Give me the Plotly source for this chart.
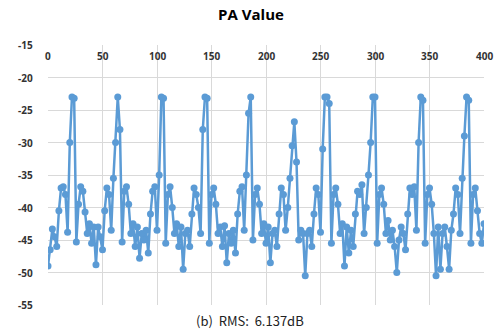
import plotly.graph_objects as go

x_vals = list(range(0, 401, 2))

pa_values = [
    # 0-38
    -49, -46.5, -43.3, -44.5, -46, -40.5, -37, -36.8, -38, -43.8,
    -30, -23, -23.2, -45.3, -39.5, -36.8, -37.5, -40.7, -44, -42.5,
    # 40-78
    -45.5, -43, -48.8, -43, -44.5, -46.5, -40.5, -37, -38, -43.5,
    -35.5, -30, -23, -28, -45.3, -37.5, -36.8, -39.5, -44, -42.5,
    # 80-118
    -46, -43, -47.8, -44, -45, -43.5, -47, -41, -37.5, -36.8,
    -43.5, -35, -23, -23.2, -45.5, -38, -36.8, -40, -44, -42.5,
    # 120-158
    -46, -43, -49.5, -44, -43.5, -46, -41, -37, -38, -40,
    -44, -28, -23, -23.2, -45.5, -38, -37, -39.5, -44, -43,
    # 160-198
    -46, -42.8, -48.5, -44, -45.5, -43.5, -47, -41, -37.5, -36.8,
    -43.5, -35, -25.5, -23, -45, -38, -37, -39.5, -44, -42.5,
    # 200-238
    -45.5, -43, -48.5, -44, -43.5, -46, -41, -37, -38, -43.5,
    -40, -35.5, -30.5, -26.8, -33, -45, -43.5, -44, -50.5, -44,
    # 240-278
    -43.5, -46, -41, -37, -38, -43.8, -31, -23, -23, -24,
    -45.5, -38, -37, -39.5, -44, -42.5, -49, -43, -47, -43.5,
    # 280-318
    -46, -41, -37.5, -38, -36.5, -44, -40, -35, -30, -23,
    -23, -45.5, -38, -37, -39.5, -44, -42, -45, -43.5, -46,
    # 320-358
    -50, -45, -43, -44, -46.5, -41, -37, -38, -36.8, -43.5,
    -30, -23, -23.5, -45.5, -38, -37, -39.5, -44, -50.5, -43,
    # 360-398
    -49.5, -44, -43, -46, -49.5, -43.5, -41, -37, -38, -44,
    -35.5, -29, -23, -23.5, -45.5, -38, -37, -40.5, -44, -45.5,
    # 400
    -42.5,
]

x_ticks = [0, 50, 100, 150, 200, 250, 300, 350, 400]
y_ticks = [-15, -20, -25, -30, -35, -40, -45, -50, -55]

title_text = "PA Value"
caption_text = "(b)  RMS:  6.137dB"

line_color = "#5B9BD5"
tick_font = dict(family="Open Sans, sans-serif", size=10, color="#333333", weight="bold")

fig = go.Figure()
fig.add_trace(go.Scatter(
    x=x_vals, y=pa_values, mode="lines+markers",
    line=dict(color=line_color, width=2.5),
    marker=dict(color=line_color, size=7, symbol="circle"),
    showlegend=False,
))

fig.update_layout(
    width=502, height=336,
    margin=dict(l=48, r=18, t=45, b=31),
    paper_bgcolor="white", plot_bgcolor="white",
    title=dict(text="<b>" + title_text + "</b>", x=0.5, xanchor="center",
               y=1 - 15 / 336, yanchor="middle",
               font=dict(family="Open Sans, sans-serif", size=15, color="#000000")),
    xaxis=dict(range=[0, 400], tickvals=x_ticks, showticklabels=False,
               showgrid=True, gridcolor="#D9D9D9", gridwidth=1,
               zeroline=False, showline=False, ticks=""),
    yaxis=dict(range=[-55, -15], tickvals=y_ticks, showticklabels=False,
               showgrid=True, gridcolor="#D9D9D9", gridwidth=1,
               zeroline=False, showline=False, ticks=""),
)

for xt in x_ticks:
    fig.add_annotation(
        text=str(xt), xref="x", yref="paper", x=xt, y=1, yshift=-2,
        xanchor="center", yanchor="top", showarrow=False, font=tick_font,
    )

for yt in y_ticks:
    fig.add_annotation(
        text=str(yt), xref="paper", yref="y", x=0, y=yt, xshift=-13,
        xanchor="right", yanchor="middle", showarrow=False, font=tick_font,
    )

fig.add_annotation(
    text=caption_text, xref="paper", yref="paper",
    x=(250 - 48) / 436, y=-(320 - 305) / 260, xanchor="center", yanchor="middle",
    showarrow=False,
    font=dict(family="Noto Sans CJK KR, Noto Sans, sans-serif", size=13, color="#222222"),
)

fig.write_html("out.html")
